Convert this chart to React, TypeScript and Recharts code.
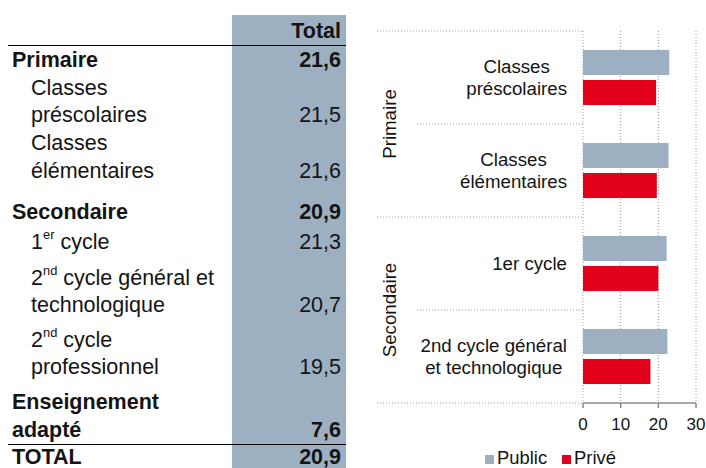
import React from "react";
import { BarChart, Bar, XAxis, YAxis, CartesianGrid } from "recharts";

// ---------- Chart data ----------
const categoryLines: string[][] = [
  ["Classes", "préscolaires"],
  ["Classes", "élémentaires"],
  ["1er cycle"],
  ["2nd cycle général", "et technologique"],
];
const categories = categoryLines.map((l) => l.join(" "));
const categoryGroups = ["Primaire", "Primaire", "Secondaire", "Secondaire"];
const publicValues = [22.9, 22.7, 22.2, 22.4];
const priveValues = [19.4, 19.6, 20.0, 17.9];
const xTicks = [0, 10, 20, 30];
const seriesNames = ["Public", "Privé"];

// ---------- Table data ----------
const tableHeader = "Total";
const tableLabels: string[][] = [
  ["Primaire"],
  ["Classes", "préscolaires"],
  ["Classes", "élémentaires"],
  ["Secondaire"],
  ["1{er} cycle"],
  ["2{nd} cycle général et", "technologique"],
  ["2{nd} cycle", "professionnel"],
  ["Enseignement", "adapté"],
  ["TOTAL"],
];
const tableValues = ["21,6", "21,5", "21,6", "20,9", "21,3", "20,7", "19,5", "7,6", "20,9"];
const tableBold = [true, false, false, true, false, false, false, true, true];

// ---------- Layout / style ----------
const W = 706;
const H = 468;
const PLOT_LEFT = 583;
const PLOT_TOP = 31;
const PLOT_BOTTOM = 403;
const COLORS = ["#9cb0c2", "#e2001a"];
const FONT = "'Liberation Sans', Arial, Helvetica, sans-serif";
const LABEL_FONT_SIZE = 18.7;
const TEXT = "#141414";
const DOT = "#9a9a9a";
// center y of each line in the table (layout only)
const TABLE_LINE_Y: number[][] = [
  [60],
  [88, 115],
  [143, 171],
  [212],
  [242],
  [278, 305],
  [340, 367],
  [402, 430],
  [457],
];
const TABLE_FONT = 21.5;

const data = categories.map((name, i) => ({
  name,
  Public: publicValues[i],
  Privé: priveValues[i],
}));

let ctx: CanvasRenderingContext2D | null = null;
function measure(text: string, size: number, bold = false) {
  if (!ctx) ctx = document.createElement("canvas").getContext("2d");
  if (!ctx) return text.length * size * 0.5;
  ctx.font = `${bold ? "bold " : ""}${size}px ${FONT}`;
  return ctx.measureText(text).width;
}

const CategoryTick = (props: any) => {
  const { y, payload } = props;
  const i = categories.indexOf(payload.value);
  if (i < 0) return null;
  const band = (PLOT_BOTTOM - PLOT_TOP) / categories.length;
  const lines = categoryLines[i];
  const lineH = 22;
  const rightEdge = PLOT_LEFT - 16;
  const maxW = Math.max(...lines.map((l) => measure(l, LABEL_FONT_SIZE)));
  const cx = rightEdge - maxW / 2;
  const g = categoryGroups[i];
  const isFirst = i === 0 || categoryGroups[i - 1] !== g;
  const isLast = i === categories.length - 1 || categoryGroups[i + 1] !== g;
  const groupCount = categoryGroups.filter((x) => x === g).length;
  const longX = 377;
  const shortX = 417;
  const elems: React.ReactNode[] = [];
  lines.forEach((l, k) => {
    elems.push(
      <text
        key={"t" + k}
        x={cx}
        y={y - ((lines.length - 1) * lineH) / 2 + k * lineH}
        dy="0.36em"
        textAnchor="middle"
        fontSize={LABEL_FONT_SIZE}
        fontFamily={FONT}
        fill={TEXT}
      >
        {l}
      </text>
    );
  });
  if (i === 0) {
    elems.push(
      <line key="top" x1={longX} x2={PLOT_LEFT} y1={y - band / 2} y2={y - band / 2} stroke={DOT} strokeDasharray="1 2" />
    );
  }
  elems.push(
    <line
      key="bot"
      x1={isLast ? longX : shortX}
      x2={PLOT_LEFT}
      y1={y + band / 2}
      y2={y + band / 2}
      stroke={DOT}
      strokeDasharray="1 2"
    />
  );
  if (isFirst) {
    const gy = y - band / 2 + (groupCount * band) / 2;
    elems.push(
      <text
        key="g"
        x={389}
        y={gy}
        dy="0.36em"
        textAnchor="middle"
        fontSize={LABEL_FONT_SIZE}
        fontFamily={FONT}
        fill={TEXT}
        transform={`rotate(-90 389 ${gy})`}
      >
        {g}
      </text>
    );
  }
  return <g>{elems}</g>;
};

function renderRich(s: string) {
  const parts = s.split(/(\{[^}]*\})/);
  return parts.map((p, k) =>
    p.startsWith("{") ? (
      <sup key={k} style={{ fontSize: "0.6em", verticalAlign: "0", position: "relative", top: "-0.75em" }}>
        {p.slice(1, -1)}
      </sup>
    ) : (
      <span key={k}>{p}</span>
    )
  );
}

const Table = () => {
  const lineH = 22;
  const items: React.ReactNode[] = [];
  items.push(
    <div
      key="bg"
      style={{ position: "absolute", left: 232, top: 15, width: 114, height: H - 15, background: COLORS[0] }}
    />
  );
  items.push(
    <div
      key="hdr"
      style={{
        position: "absolute",
        right: W - 341,
        top: 31 - lineH / 2,
        lineHeight: lineH + "px",
        fontWeight: "bold",
        fontSize: TABLE_FONT,
      }}
    >
      {tableHeader}
    </div>
  );
  items.push(<div key="l1" style={{ position: "absolute", left: 8, top: 44.5, width: 338, height: 1.5, background: "#000" }} />);
  items.push(<div key="l2" style={{ position: "absolute", left: 8, top: 443.5, width: 338, height: 1.5, background: "#000" }} />);
  tableLabels.forEach((lines, r) => {
    const bold = tableBold[r];
    lines.forEach((l, k) => {
      items.push(
        <div
          key={`r${r}-${k}`}
          style={{
            position: "absolute",
            left: bold ? 12 : 31,
            top: TABLE_LINE_Y[r][k] - lineH / 2,
            lineHeight: lineH + "px",
            fontWeight: bold ? "bold" : "normal",
            fontSize: TABLE_FONT,
            whiteSpace: "nowrap",
          }}
        >
          {renderRich(l)}
        </div>
      );
    });
    const vy = TABLE_LINE_Y[r][lines.length - 1];
    items.push(
      <div
        key={`v${r}`}
        style={{
          position: "absolute",
          right: W - 341,
          top: vy - lineH / 2,
          lineHeight: lineH + "px",
          fontWeight: bold ? "bold" : "normal",
          fontSize: TABLE_FONT,
        }}
      >
        {tableValues[r]}
      </div>
    );
  });
  return <>{items}</>;
};

const LegendBox = () => (
  <div
    style={{
      position: "absolute",
      left: 485,
      top: 451.5,
      display: "flex",
      alignItems: "flex-start",
      fontSize: 18.4,
      lineHeight: "12px",
      height: 12,
      whiteSpace: "nowrap",
    }}
  >
    {seriesNames.map((n, i) => (
      <div key={n} style={{ display: "flex", alignItems: "flex-start", marginRight: 15, height: 12 }}>
        <div style={{ width: 9, height: 9, background: COLORS[i], marginRight: 3, marginTop: 3 }} />
        <span style={{ display: "block", height: 12, lineHeight: "12px" }}>{n}</span>
      </div>
    ))}
  </div>
);

export default function App() {
  return (
    <div
      style={{
        position: "absolute",
        left: 0,
        top: 0,
        width: W,
        height: H,
        background: "#fff",
        fontFamily: FONT,
        color: TEXT,
        overflow: "hidden",
      }}
    >
      <Table />
      <div style={{ position: "absolute", left: 0, top: 0 }}>
        <BarChart
          width={W}
          height={H}
          data={data}
          layout="vertical"
          margin={{ top: 31, right: 10, bottom: 35, left: 0 }}
          barSize={25}
          barGap={5}
        >
          <CartesianGrid horizontal={false} vertical={true} stroke={DOT} strokeDasharray="1 2" />
          <XAxis
            type="number"
            domain={[0, 30]}
            ticks={xTicks}
            height={30}
            axisLine={{ stroke: "#8a8a8a", strokeWidth: 1.5 }}
            tickLine={{ stroke: "#8a8a8a", strokeWidth: 1.5 }}
            tickSize={5}
            tickMargin={10}
            tick={{ fontSize: 17, fill: TEXT, fontFamily: FONT }}
          />
          <YAxis
            type="category"
            dataKey="name"
            width={583}
            axisLine={false}
            tickLine={false}
            interval={0}
            tick={<CategoryTick />}
          />
          <Bar dataKey="Public" fill={COLORS[0]} isAnimationActive={false} />
          <Bar dataKey="Privé" fill={COLORS[1]} isAnimationActive={false} />
        </BarChart>
      </div>
      <LegendBox />
    </div>
  );
}
